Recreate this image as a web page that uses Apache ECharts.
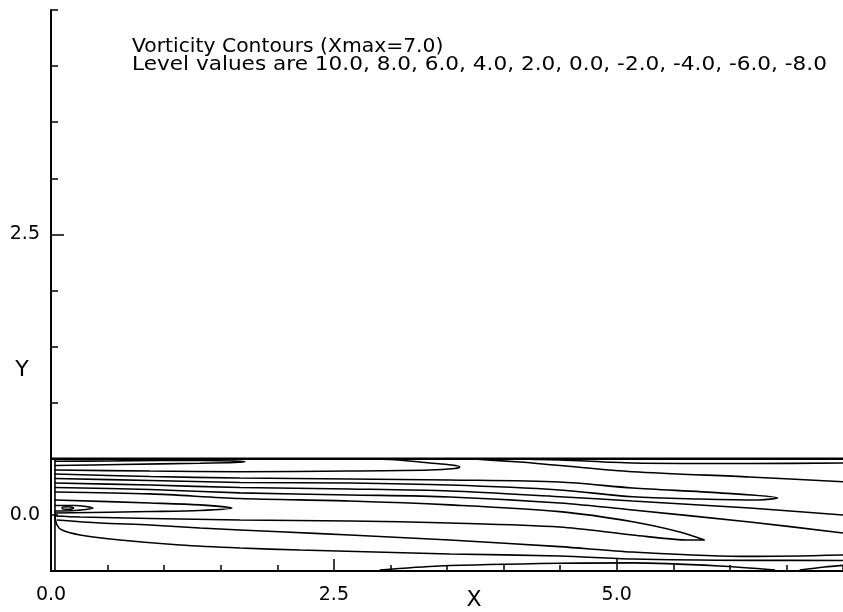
<!DOCTYPE html>
<html><head><meta charset="utf-8">
<script src="https://cdn.jsdelivr.net/npm/echarts@6/dist/echarts.min.js"></script>
<style>html,body{margin:0;padding:0;background:#fff}#c{width:843px;height:612px}</style>
</head><body><div id="c"></div>
<script>
// ---- text ----
const titleLine1 = 'Vorticity Contours (Xmax=7.0)';
const levelValues = [10.0, 8.0, 6.0, 4.0, 2.0, 0.0, -2.0, -4.0, -6.0, -8.0];
const titleLine2 = 'Level values are ' + levelValues.map(v => v.toFixed(1)).join(', ');
const xName = 'X';
const yName = 'Y';

// ---- axes ----
const xRange = [0, 7.0];
const yRange = [-0.5, 4.5];
const tickStep = 0.5;
const xTickLabels = [0.0, 2.5, 5.0];
const yTickLabels = [0.0, 2.5];
const xMajorTicks = [2.5, 5.0];
const yMajorTicks = [2.5];

// ---- channel boundary ----
const channelTop = [[0, 0.5], [7, 0.5]];
const channelWall = [[0.035, -0.5], [0.035, 0.5]];

// ---- contour lines (x, y) ----
const contourA = [[0.035,0.478],[0.521,0.481],[0.963,0.485],[1.316,0.485],[1.625,0.481],[1.714,0.474],[1.625,0.467],[1.316,0.46],[0.61,0.449],[0.035,0.44]];
const contourB = [[0.035,0.4],[0.875,0.391],[1.67,0.385],[2.641,0.391],[3.348,0.4],[3.569,0.414],[3.613,0.427],[3.542,0.445],[3.348,0.463],[2.995,0.494],[2.553,0.5]];
const contourC = [[3.966,0.5],[4.496,0.489],[5.141,0.463],[6.175,0.458],[7,0.463]];
const contourD = [[3.701,0.5],[4.143,0.471],[4.496,0.44],[5.141,0.385],[6.175,0.338],[7,0.296]];
const contourE = [[0.035,0.365],[0.875,0.342],[1.67,0.329],[2.641,0.32],[3.525,0.311],[4.496,0.293],[5.141,0.24],[5.91,0.196],[6.422,0.151],[6.263,0.133],[5.733,0.142],[5.141,0.162],[4.496,0.222],[3.525,0.266],[2.641,0.284],[1.67,0.289],[0.875,0.307],[0.035,0.324]];
const contourF = [[0.035,0.284],[0.875,0.266],[1.67,0.244],[2.641,0.231],[3.525,0.213],[4.496,0.162],[5.141,0.124],[6.175,0.061],[7,-0.001]];
const contourG = [[0.035,0.244],[0.875,0.226],[1.67,0.196],[2.641,0.178],[3.525,0.16],[4.496,0.106],[5.141,0.044],[6.175,-0.063],[7,-0.161]];
const contourH = [[0.035,0.204],[0.875,0.187],[1.67,0.146],[2.641,0.124],[3.525,0.089],[4.496,0.029],[5.141,-0.061],[5.557,-0.152],[5.777,-0.224],[5.645,-0.224],[5.141,-0.179],[4.496,-0.108],[3.525,-0.072],[2.641,-0.054],[1.67,-0.045],[0.875,-0.032],[0.256,-0.019],[0.035,-0.01]];
const contourI = [[0.035,0.133],[0.875,0.106],[1.316,0.089],[1.599,0.061],[1.316,0.039],[0.875,0.03],[0.035,0.017]];
const contourJ = [[0.035,0.084],[0.212,0.084],[0.371,0.061],[0.212,0.039],[0.035,0.035]];
const contourJ2 = [[0.1,0.07],[0.16,0.072],[0.2,0.06],[0.16,0.05],[0.1,0.052],[0.1,0.07]];
const contourK = [[0.053,-0.045],[0.433,-0.072],[0.875,-0.09],[1.316,-0.117],[2.023,-0.15],[2.641,-0.179],[3.525,-0.224],[4.496,-0.283],[5.141,-0.331],[6.175,-0.37],[7,-0.357]];
const contourL = [[0.035,-0.01],[0.053,-0.09],[0.097,-0.135],[0.256,-0.179],[0.61,-0.224],[1.14,-0.268],[1.67,-0.295],[2.2,-0.313],[3.525,-0.348],[4.496,-0.366],[5.141,-0.393],[6.175,-0.405],[7,-0.406]];
const contourM = [[2.906,-0.491],[3.436,-0.455],[4.496,-0.431],[5.141,-0.428],[5.91,-0.455],[6.4,-0.491]];
const contourN = [[6.617,-0.491],[6.837,-0.464],[7,-0.45]];

const contours = [contourA, contourB, contourC, contourD, contourE, contourF, contourG, contourH, contourI, contourJ, contourJ2, contourK, contourL, contourM, contourN];

const FONT = 'DejaVu Sans';
const fmt = v => Number(v).toFixed(1);

function lineSeries(data, width, smooth) {
  return {
    type: 'line', data: data, showSymbol: false, symbol: 'none', silent: true,
    smooth: smooth, animation: false, clip: false,
    lineStyle: { color: '#000', width: width }
  };
}

const series = [
  lineSeries(channelTop, 2.6, false),
  lineSeries(channelWall, 1.6, false)
].concat(contours.map(c => lineSeries(c, 1.6, 0.3)));

const baseAxis = {
  type: 'value', splitLine: { show: false }, minorTick: { show: false }
};

const option = {
  backgroundColor: '#fff',
  animation: false,
  grid: { left: 51, top: 10, width: 792, height: 561, containLabel: false, outerBoundsMode: 'none' },
  xAxis: [
    Object.assign({}, baseAxis, {
      min: xRange[0], max: xRange[1], interval: tickStep, position: 'bottom',
      axisLine: { show: true, onZero: false, lineStyle: { color: '#000', width: 2 } },
      axisTick: { show: true, inside: true, length: 6, lineStyle: { color: '#000', width: 1.5 } },
      axisLabel: { show: true, customValues: xTickLabels, formatter: fmt, color: '#000', fontFamily: FONT, fontSize: 19, margin: 15 }
    }),
    Object.assign({}, baseAxis, {
      min: xRange[0], max: xRange[1], position: 'bottom',
      axisLine: { show: false, onZero: false },
      axisTick: { show: true, inside: true, length: 12, customValues: xMajorTicks, lineStyle: { color: '#000', width: 1.5 } },
      axisLabel: { show: false }
    })
  ],
  yAxis: [
    Object.assign({}, baseAxis, {
      min: yRange[0], max: yRange[1], interval: tickStep, position: 'left',
      axisLine: { show: true, onZero: false, lineStyle: { color: '#000', width: 2 } },
      axisTick: { show: true, inside: true, length: 7, lineStyle: { color: '#000', width: 1.5 } },
      axisLabel: { show: true, customValues: yTickLabels, formatter: fmt, color: '#000', fontFamily: FONT, fontSize: 19, margin: 11 }
    }),
    Object.assign({}, baseAxis, {
      min: yRange[0], max: yRange[1], position: 'left',
      axisLine: { show: false, onZero: false },
      axisTick: { show: true, inside: true, length: 13, customValues: yMajorTicks, lineStyle: { color: '#000', width: 1.5 } },
      axisLabel: { show: false }
    })
  ],
  graphic: [
    { type: 'text', x: 132, y: 47, scaleX: 1.069, silent: true,
      style: { text: titleLine1, fontFamily: FONT, fontSize: 19, fill: '#000', align: 'left', verticalAlign: 'middle' } },
    { type: 'text', x: 132, y: 65, scaleX: 1.137, silent: true,
      style: { text: titleLine2, fontFamily: FONT, fontSize: 19, fill: '#000', align: 'left', verticalAlign: 'middle' } },
    { type: 'text', x: 474, y: 600, silent: true,
      style: { text: xName, fontFamily: FONT, fontSize: 22, fill: '#000', align: 'center', verticalAlign: 'middle' } },
    { type: 'text', x: 22, y: 370, silent: true,
      style: { text: yName, fontFamily: FONT, fontSize: 22, fill: '#000', align: 'center', verticalAlign: 'middle' } }
  ],
  series: series
};

const chart = echarts.init(document.getElementById('c'), null, { renderer: 'canvas' });
chart.setOption(option);
</script>
</body></html>
